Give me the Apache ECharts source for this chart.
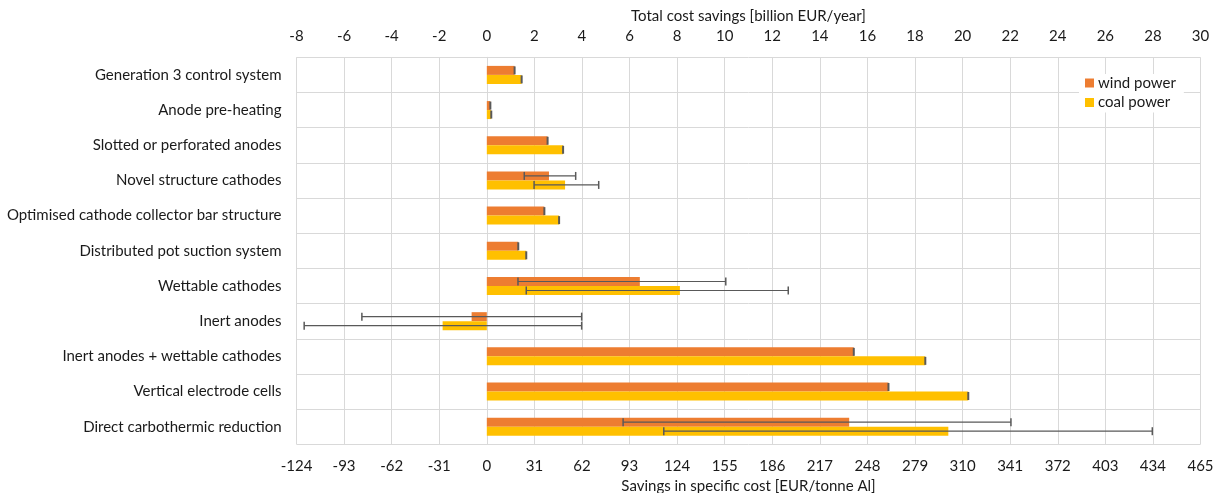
<!DOCTYPE html>
<html>
<head>
<meta charset="utf-8">
<script src="https://cdn.jsdelivr.net/npm/echarts@6/dist/echarts.min.js"></script>
<style>
  html, body { margin: 0; padding: 0; background: #ffffff; }
  #chart { width: 1229px; height: 493px; }
</style>
</head>
<body>
<div id="chart"></div>
<script>
// Aluminium smelting technologies
const categories = [
  'Generation 3 control system',
  'Anode pre-heating',
  'Slotted or perforated anodes',
  'Novel structure cathodes',
  'Optimised cathode collector bar structure',
  'Distributed pot suction system',
  'Wettable cathodes',
  'Inert anodes',
  'Inert anodes + wettable cathodes',
  'Vertical electrode cells',
  'Direct carbothermic reduction'
];

// Savings in specific cost [EUR/tonne Al]
const windPower = [18.1, 2.3, 39.6, 40.5, 37.5, 20.5, 99.7, -9.9, 239.1, 261.7, 236.1];
const coalPower = [22.7, 2.9, 49.7, 51.0, 47.1, 25.7, 125.8, -28.8, 285.7, 313.7, 300.7];

// Uncertainty ranges (null = no range given)
const windLow  = [null, null, null, 24.4, null, null, 20.3, -81.4, null, null, 88.8];
const windHigh = [null, null, null, 57.9, null, null, 155.7, 61.8, null, null, 341.5];
const coalLow  = [null, null, null, 30.8, null, null, 25.7, -119.0, null, null, 115.3];
const coalHigh = [null, null, null, 72.9, null, null, 196.4, 61.8, null, null, 433.6];

// Axis ranges: specific cost (bottom) and total savings (top)
const specificTicks = { min: -124, max: 465, interval: 31 };
const totalTicks = { min: -8, max: 30, interval: 2 };

const WIND = '#ED7D31';
const COAL = '#FFC000';
const FONT = 'Lato';
const FS = 15;
const BAR_W = 9;

function errorData(values, lows, highs, seriesIdx) {
  return values.map((v, i) => [i, lows[i], highs[i], v, seriesIdx]);
}

function renderError(params, api) {
  const idx = api.value(0);
  const lo = api.value(1);
  const hi = api.value(2);
  const val = api.value(3);
  const s = api.value(4);
  const yc = api.coord([0, idx])[1] + (s === 0 ? -BAR_W / 2 : BAR_W / 2);
  const capH = 4;
  const style = { stroke: '#595959', lineWidth: 1.5 };
  const children = [];
  const hasRange = lo !== null && hi !== null && !isNaN(lo) && !isNaN(hi);
  if (hasRange) {
    const x1 = api.coord([lo, idx])[0];
    const x2 = api.coord([hi, idx])[0];
    children.push({ type: 'line', shape: { x1: x1, y1: yc, x2: x2, y2: yc }, style: { stroke: '#595959', lineWidth: 1.2 } });
    children.push({ type: 'line', shape: { x1: x1, y1: yc - capH, x2: x1, y2: yc + capH }, style: style });
    children.push({ type: 'line', shape: { x1: x2, y1: yc - capH, x2: x2, y2: yc + capH }, style: style });
  } else {
    const xv = api.coord([val, idx])[0];
    children.push({ type: 'line', shape: { x1: xv, y1: yc - capH, x2: xv, y2: yc + capH }, style: { stroke: '#595959', lineWidth: 2 } });
  }
  return { type: 'group', children: children };
}

const chart = echarts.init(document.getElementById('chart'), null, { renderer: 'canvas' });

chart.setOption({
  animation: false,
  backgroundColor: '#ffffff',
  textStyle: { fontFamily: FONT },
  grid: {
    left: 296.5, right: 28.5, top: 57.3, bottom: 48.7,
    containLabel: false,
    outerBoundsMode: 'none'
  },
  legend: {
    data: ['wind power', 'coal power'],
    orient: 'vertical',
    left: 1079,
    top: 74,
    padding: [1, 8, 2, 6],
    backgroundColor: '#ffffff',
    icon: 'rect',
    itemWidth: 9,
    itemHeight: 9,
    itemGap: 3.5,
    textStyle: { fontFamily: FONT, fontSize: FS, color: '#1a1a1a', lineHeight: 16, padding: [0, 0, 0, -1] }
  },
  xAxis: [
    {
      type: 'value',
      position: 'bottom',
      min: specificTicks.min,
      max: specificTicks.max,
      interval: specificTicks.interval,
      name: 'Savings in specific cost [EUR/tonne Al]',
      nameLocation: 'middle',
      nameGap: 33,
      nameTextStyle: { fontFamily: FONT, fontSize: FS, color: '#1a1a1a' },
      axisLine: { show: false },
      axisTick: { show: false },
      axisLabel: { fontFamily: FONT, fontSize: FS, color: '#1a1a1a', margin: 14 },
      splitLine: { show: true, lineStyle: { color: '#D9D9D9', width: 1 } }
    },
    {
      type: 'value',
      position: 'top',
      min: totalTicks.min,
      max: totalTicks.max,
      interval: totalTicks.interval,
      name: 'Total cost savings [billion EUR/year]',
      nameLocation: 'middle',
      nameGap: 33,
      nameTextStyle: { fontFamily: FONT, fontSize: FS, color: '#1a1a1a' },
      axisLine: { show: false },
      axisTick: { show: false },
      axisLabel: { fontFamily: FONT, fontSize: FS, color: '#1a1a1a', margin: 14 },
      splitLine: { show: false }
    }
  ],
  yAxis: {
    type: 'category',
    data: categories,
    inverse: true,
    axisLine: { show: true, lineStyle: { color: '#D9D9D9' } },
    axisTick: { show: false },
    axisLabel: { fontFamily: FONT, fontSize: FS, color: '#1a1a1a', margin: 15 },
    splitLine: { show: true, lineStyle: { color: '#D9D9D9', width: 1 } }
  },
  series: [
    {
      name: 'wind power',
      type: 'bar',
      xAxisIndex: 0,
      data: windPower,
      barWidth: BAR_W,
      barGap: '0%',
      itemStyle: { color: WIND },
      z: 2
    },
    {
      name: 'coal power',
      type: 'bar',
      xAxisIndex: 0,
      data: coalPower,
      barWidth: BAR_W,
      barGap: '0%',
      itemStyle: { color: COAL },
      z: 2
    },
    {
      name: 'wind range',
      type: 'custom',
      xAxisIndex: 0,
      renderItem: renderError,
      data: errorData(windPower, windLow, windHigh, 0),
      encode: { x: [1, 2, 3], y: 0 },
      z: 5
    },
    {
      name: 'coal range',
      type: 'custom',
      xAxisIndex: 0,
      renderItem: renderError,
      data: errorData(coalPower, coalLow, coalHigh, 1),
      encode: { x: [1, 2, 3], y: 0 },
      z: 5
    }
  ]
});
</script>
</body>
</html>
